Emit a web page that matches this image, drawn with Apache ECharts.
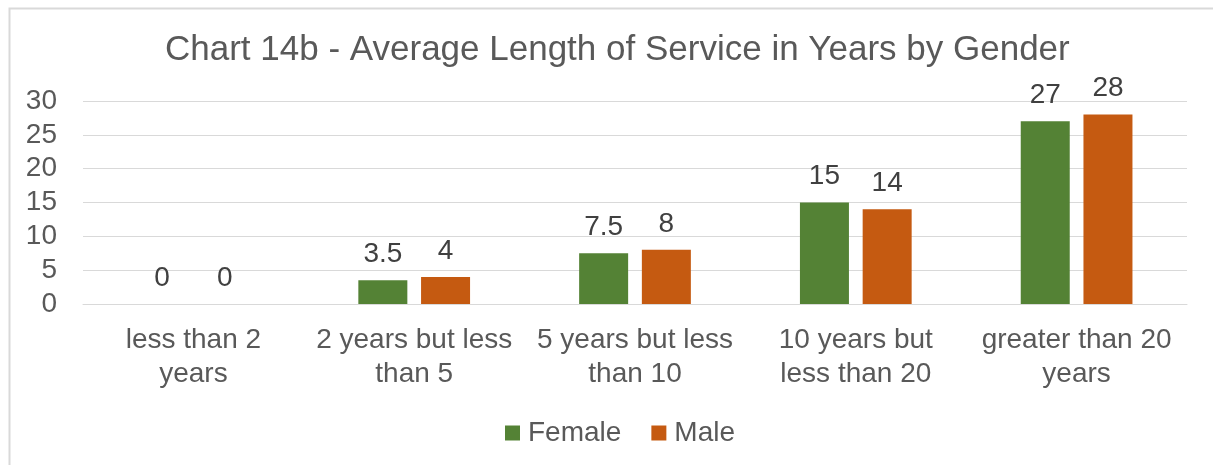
<!DOCTYPE html>
<html>
<head>
<meta charset="utf-8">
<script src="https://cdn.jsdelivr.net/npm/echarts@6/dist/echarts.min.js"></script>
<style>
html,body{margin:0;padding:0;background:#fff;}
#chart{width:1213px;height:465px;}
</style>
</head>
<body>
<div id="chart"></div>
<script>
const titleText = 'Chart 14b - Average Length of Service in Years by Gender';
const categories = ['less than 2\nyears', '2 years but less\nthan 5', '5 years but less\nthan 10', '10 years but\nless than 20', 'greater than 20\nyears'];
const femaleValues = [0, 3.5, 7.5, 15, 27];
const maleValues = [0, 4, 8, 14, 28];
const seriesNames = ['Female', 'Male'];
const yTicks = { min: 0, max: 30, interval: 5 };

const FONT = '"Liberation Sans", Arial, sans-serif';
const chart = echarts.init(document.getElementById('chart'), null, { renderer: 'canvas' });
const labelStyle = { show: true, position: 'top', distance: 12, color: '#404040', fontSize: 28, fontFamily: FONT };
chart.setOption({
  animation: false,
  backgroundColor: '#ffffff',
  graphic: [{
    type: 'rect', left: 7, top: 6, silent: true,
    shape: { width: 1230, height: 480 },
    style: { fill: 'none', stroke: '#d9d9d9', lineWidth: 2 }
  }],
  title: {
    text: titleText, left: 160, top: 28,
    textStyle: { color: '#595959', fontSize: 35, fontWeight: 'normal', fontFamily: FONT }
  },
  legend: {
    data: seriesNames, left: 500, top: 414,
    icon: 'rect', itemWidth: 15, itemHeight: 15, itemGap: 30,
    textStyle: { color: '#595959', fontSize: 28, fontFamily: FONT, padding: [0, 0, 0, 3] }
  },
  grid: { left: 83, right: 26, top: 101, bottom: 161, containLabel: false },
  xAxis: {
    type: 'category', data: categories,
    axisLine: { show: true, lineStyle: { color: '#d9d9d9', width: 1 } },
    axisTick: { show: false },
    axisLabel: { color: '#595959', fontSize: 28, fontFamily: FONT, lineHeight: 34, margin: 19, interval: 0 }
  },
  yAxis: {
    type: 'value', min: yTicks.min, max: yTicks.max, interval: yTicks.interval,
    axisLine: { show: false }, axisTick: { show: false },
    splitLine: { lineStyle: { color: '#d9d9d9', width: 1 } },
    axisLabel: { color: '#595959', fontSize: 28, fontFamily: FONT, margin: 26 }
  },
  series: [
    { name: seriesNames[0], type: 'bar', data: femaleValues, barWidth: 49, barGap: '28%',
      itemStyle: { color: '#548235' }, label: labelStyle },
    { name: seriesNames[1], type: 'bar', data: maleValues, barWidth: 49, barGap: '28%',
      itemStyle: { color: '#C55A11' }, label: labelStyle }
  ]
});
</script>
</body>
</html>
